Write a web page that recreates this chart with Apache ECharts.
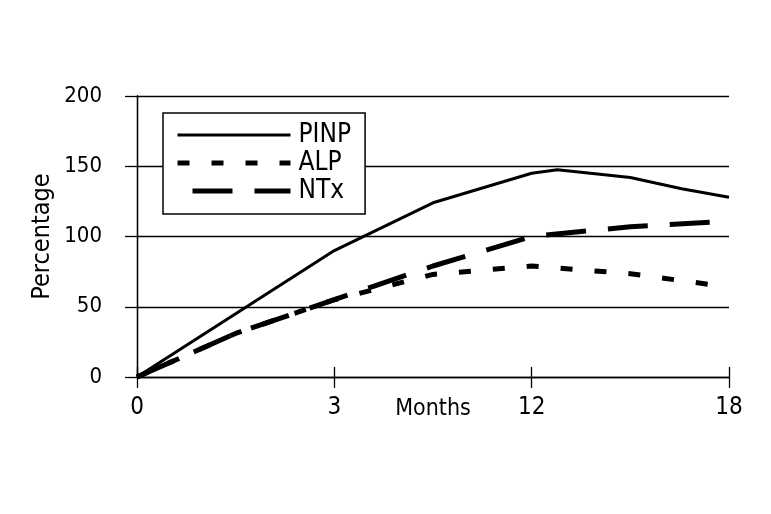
<!DOCTYPE html>
<html>
<head>
<meta charset="utf-8">
<script src="https://cdn.jsdelivr.net/npm/echarts@6/dist/echarts.min.js"></script>
<style>
  html, body { margin: 0; padding: 0; background: #fff; }
  #chart { width: 771px; height: 514px; }
</style>
</head>
<body>
<div id="chart"></div>
<script>
// Tick labels of the month axis (equally spaced slots 0..3)
const xTickLabels = ['0', '3', '12', '18'];
const yTicks = [0, 50, 100, 150, 200];
const seriesNames = ['PINP', 'ALP', 'NTx'];

// Positions along the month axis (slot units) and percentage values
const pinpX = [0, 1.0, 1.5, 2.0, 2.13, 2.5, 2.76, 3.0];
const pinpY = [0, 90, 124, 145, 147.5, 142, 134, 128];
const alpX = [0, 0.5, 1.0, 1.5, 2.0, 2.5, 3.0];
const alpY = [0, 31, 55, 73, 79, 73.5, 64];
const ntxX = [0, 0.5, 1.0, 1.5, 2.0, 2.5, 3.0];
const ntxY = [0, 31, 55, 79, 100, 107, 111];

const FONT = '"DejaVu Sans Condensed", "Liberation Sans Narrow", sans-serif';
const pair = (xs, ys) => xs.map((x, i) => [x, ys[i]]);

const chart = echarts.init(document.getElementById('chart'), null, { renderer: 'canvas' });
chart.setOption({
  animation: false,
  backgroundColor: '#fff',
  grid: { left: 137, right: 42, top: 96, bottom: 137, containLabel: false },
  legend: {
    orient: 'vertical',
    left: 163, top: 113,
    padding: [8, 14, 9, 12],
    itemGap: 0,
    itemWidth: 113,
    itemHeight: 22,
    backgroundColor: '#fff',
    borderColor: '#000',
    borderWidth: 1.5,
    borderRadius: 0,
    selectedMode: false,
    itemStyle: { opacity: 0 },
    textStyle: { fontFamily: FONT, fontSize: 26, color: '#000', lineHeight: 28, padding: [0, 0, 0, 3] },
    data: [
      { name: seriesNames[0], lineStyle: { width: 3 }, itemStyle: { opacity: 0 } },
      { name: seriesNames[1], lineStyle: { width: 5 }, itemStyle: { opacity: 0 } },
      { name: seriesNames[2], lineStyle: { width: 5, dashOffset: 47 }, itemStyle: { opacity: 0 } }
    ]
  },
  xAxis: [{
    type: 'value', min: 0, max: 3, interval: 1,
    name: 'Months', nameLocation: 'middle', nameGap: 21, nameMoveOverlap: false,
    nameTextStyle: { fontFamily: FONT, fontSize: 23, color: '#000', verticalAlign: 'top' },
    axisLine: { show: true, onZero: false, lineStyle: { color: '#000', width: 1.3 } },
    axisTick: { show: true, inside: false, length: 11, lineStyle: { color: '#000', width: 1.3 } },
    axisLabel: {
      fontFamily: FONT, fontSize: 24, color: '#000', margin: 19,
      formatter: v => xTickLabels[Math.round(v)]
    },
    splitLine: { show: false }
  }, {
    type: 'value', min: 0, max: 3, interval: 1, position: 'bottom',
    axisLine: { show: false },
    axisTick: { show: true, inside: true, length: 10, lineStyle: { color: '#000', width: 1.3 } },
    axisLabel: { show: false },
    splitLine: { show: false }
  }],
  yAxis: [{
    type: 'value', min: yTicks[0], max: yTicks[yTicks.length - 1], interval: 50,
    name: 'Percentage', nameLocation: 'middle', nameGap: 82, nameMoveOverlap: false,
    nameTextStyle: { fontFamily: FONT, fontSize: 25, color: '#000' },
    axisLine: { show: true, lineStyle: { color: '#000', width: 1.3 } },
    axisTick: { show: true, inside: false, length: 12, lineStyle: { color: '#000', width: 1.3 } },
    axisLabel: { fontFamily: FONT, fontSize: 22, color: '#000', margin: 35 },
    splitLine: { show: true, lineStyle: { color: '#000', width: 1.3 } }
  }, {
    type: 'value', min: 0, max: 200, interval: 50, position: 'right',
    axisLine: { show: true, lineStyle: { color: '#000', width: 1.3 } },
    axisTick: { show: false },
    axisLabel: { show: false },
    splitLine: { show: false }
  }],
  series: [
    {
      name: seriesNames[0], type: 'line', symbol: 'none', z: 3,
      data: pair(pinpX, pinpY),
      lineStyle: { color: '#000', width: 3, type: 'solid' }
    },
    {
      name: seriesNames[1], type: 'line', symbol: 'none', z: 2,
      data: pair(alpX, alpY),
      lineStyle: { color: '#000', width: 5, type: [12, 22] }
    },
    {
      name: seriesNames[2], type: 'line', symbol: 'none', z: 2,
      data: pair(ntxX, ntxY),
      lineStyle: { color: '#000', width: 5, type: [40, 22] }
    }
  ]
});
</script>
</body>
</html>
